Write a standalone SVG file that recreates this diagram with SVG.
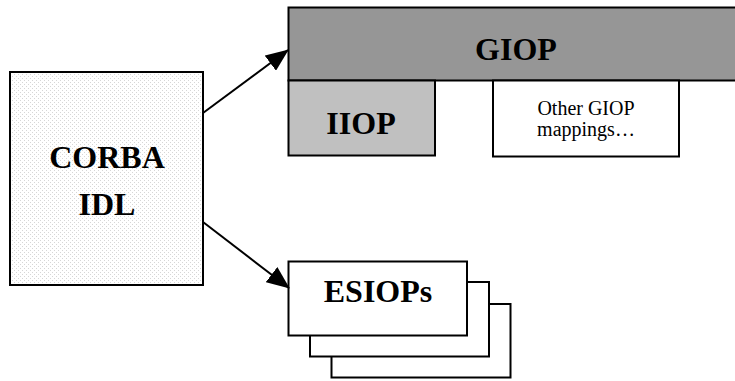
<svg xmlns="http://www.w3.org/2000/svg" width="735" height="381" viewBox="0 0 735 381">
  <style>
    .box { stroke: #000; stroke-width: 2; }
    .big { font-family: "Liberation Serif", "Times New Roman", serif; font-weight: bold; font-size: 32px; fill: #000; text-anchor: middle; }
    .small { font-family: "Liberation Serif", "Times New Roman", serif; font-size: 20px; fill: #000; text-anchor: middle; }
    .conn { stroke: #000; stroke-width: 2; fill: none; }
  </style>
  <defs>
    <pattern id="dots" width="4" height="4" patternUnits="userSpaceOnUse">
      <rect width="4" height="4" fill="#ffffff"/>
      <rect x="0" y="0" width="1" height="1" fill="#d6d6d6"/>
      <rect x="2" y="2" width="1" height="1" fill="#d6d6d6"/>
    </pattern>
    <marker id="arrow" viewBox="0 0 23 19" refX="22" refY="9.5" markerWidth="23" markerHeight="19" markerUnits="userSpaceOnUse" orient="auto">
      <path d="M0,0 L23,9.5 L0,19 Z" fill="#000"/>
    </marker>
  </defs>

  <g id="corba-idl">
    <rect class="box" x="10" y="72" width="193" height="213" fill="url(#dots)"/>
    <text class="big" x="107" y="168">CORBA</text>
    <text class="big" x="107" y="215">IDL</text>
  </g>

  <g id="giop">
    <rect class="box" x="288.5" y="7.5" width="460" height="73" fill="#969696"/>
    <text class="big" x="516" y="60">GIOP</text>
  </g>

  <g id="iiop">
    <rect class="box" x="288.5" y="80.5" width="146.5" height="75" fill="#c0c0c0"/>
    <text class="big" x="361" y="134">IIOP</text>
  </g>

  <g id="other-giop">
    <rect class="box" x="493" y="80.5" width="186" height="76" fill="#ffffff"/>
    <text class="small" x="586" y="115">Other GIOP</text>
    <text class="small" x="586" y="136">mappings…</text>
  </g>

  <g id="esiops">
    <rect class="box" x="331.5" y="304" width="179" height="73.5" fill="#ffffff"/>
    <rect class="box" x="310" y="282" width="179" height="74.5" fill="#ffffff"/>
    <rect class="box" x="288.5" y="261.5" width="178.5" height="74" fill="#ffffff"/>
    <text class="big" x="378" y="302">ESIOPs</text>
  </g>

  <g id="connectors">
    <line class="conn" x1="203" y1="113" x2="288" y2="50" marker-end="url(#arrow)"/>
    <line class="conn" x1="203" y1="222" x2="289" y2="288" marker-end="url(#arrow)"/>
  </g>
</svg>
